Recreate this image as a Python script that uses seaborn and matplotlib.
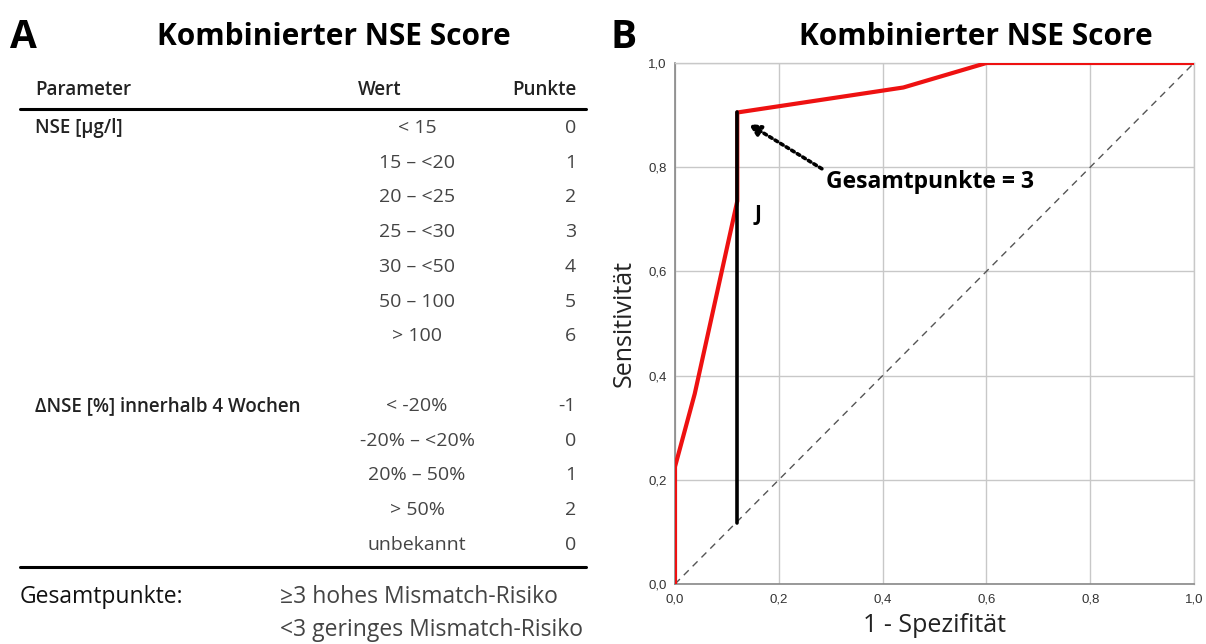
import matplotlib
matplotlib.use("Agg")
import matplotlib.pyplot as plt
import seaborn as sns
import pandas as pd

# ---------------- data ----------------
title_text = "Kombinierter NSE Score"
header = ["Parameter", "Wert", "Punkte"]
nse_label = "NSE [µg/l]"
nse_values = ["< 15", "15 – <20", "20 – <25", "25 – <30", "30 – <50", "50 – 100", "> 100"]
nse_points = ["0", "1", "2", "3", "4", "5", "6"]
delta_label = "ΔNSE [%] innerhalb 4 Wochen"
delta_values = ["< -20%", "-20% – <20%", "20% – 50%", "> 50%", "unbekannt"]
delta_points = ["-1", "0", "1", "2", "0"]
total_label = "Gesamtpunkte:"
total_rules = ["≥3 hohes Mismatch-Risiko", "<3 geringes Mismatch-Risiko"]

roc_fpr = [0.0, 0.0, 0.038, 0.12, 0.12, 0.44, 0.60, 1.0]
roc_tpr = [0.0, 0.225, 0.365, 0.735, 0.905, 0.953, 1.0, 1.0]
diag_x = [0.0, 1.0]
diag_y = [0.0, 1.0]
youden_x = [0.12, 0.12]
youden_y = [0.118, 0.905]
ticks = [0.0, 0.2, 0.4, 0.6, 0.8, 1.0]
tick_labels = ["0,0", "0,2", "0,4", "0,6", "0,8", "1,0"]
cut_label = "Gesamtpunkte = 3"
cut_point = (0.142, 0.883)
cut_text_pos = (0.283, 0.797)
j_label = "J"
j_pos = (0.153, 0.71)
xlabel = "1 - Spezifität"
ylabel = "Sensitivität"

# ---------------- figure ----------------
sns.set_theme(style="whitegrid")
FAM = ['Open Sans', 'DejaVu Sans']
plt.rcParams['font.family'] = FAM

W, H = 1206, 644
fig = plt.figure(figsize=(W / 100, H / 100), dpi=100)
fig.patch.set_facecolor("white")

def fx(x):
    return x / W

def fy(y):
    return 1 - y / H

TXT = "#444444"
HDR = "#222222"

# Panel A -------------------------------------------------------
fig.text(fx(10), fy(37), "A", fontsize=28, fontweight="bold", va="center", ha="left",
         color="black", family=FAM)
fig.text(fx(334), fy(37), title_text, fontsize=21.5, fontweight="bold", va="center",
         ha="center", color="black", family=FAM)

fig.text(fx(35), fy(90), header[0], fontsize=13.5, fontweight="semibold", va="center",
         ha="left", color=HDR, family=FAM)
fig.text(fx(380), fy(90), header[1], fontsize=13.5, fontweight="semibold", va="center",
         ha="center", color=HDR, family=FAM)
fig.text(fx(576), fy(90), header[2], fontsize=13.5, fontweight="semibold", va="center",
         ha="right", color=HDR, family=FAM)

fig.add_artist(plt.Line2D([fx(20), fx(586)], [fy(109), fy(109)], color="black", lw=2.2))

row_step = 34.7
fig.text(fx(35), fy(128), nse_label, fontsize=13.5, fontweight="semibold", va="center",
         ha="left", color=HDR, family=FAM)
for i, (v, p) in enumerate(zip(nse_values, nse_points)):
    y = 128 + i * row_step
    fig.text(fx(417), fy(y), v, fontsize=14, va="center", ha="center",
             color=TXT, family=FAM)
    fig.text(fx(576), fy(y), p, fontsize=14, va="center", ha="right",
             color=TXT, family=FAM)

fig.text(fx(35), fy(406), delta_label, fontsize=13.5, fontweight="semibold", va="center",
         ha="left", color=HDR, family=FAM)
for i, (v, p) in enumerate(zip(delta_values, delta_points)):
    y = 406 + i * row_step
    fig.text(fx(417), fy(y), v, fontsize=14, va="center", ha="center",
             color=TXT, family=FAM)
    fig.text(fx(576), fy(y), p, fontsize=14, va="center", ha="right",
             color=TXT, family=FAM)

fig.add_artist(plt.Line2D([fx(20), fx(586)], [fy(567), fy(567)], color="black", lw=2.2))

fig.text(fx(20), fy(597), total_label, fontsize=16.5, va="center", ha="left",
         color="#111111", family=FAM)
for i, r in enumerate(total_rules):
    fig.text(fx(280), fy(597 + i * 33.5), r, fontsize=16.5, va="center",
             ha="left", color=TXT, family=FAM)

# Panel B -------------------------------------------------------
fig.text(fx(610), fy(37), "B", fontsize=28, fontweight="bold", va="center", ha="left",
         color="black", family=FAM)
fig.text(fx(976), fy(37), title_text, fontsize=21.5, fontweight="bold", va="center",
         ha="center", color="black", family=FAM)

ax = fig.add_axes([fx(675), fy(584), (1194 - 675) / W, (584 - 63) / H])
ax.set_facecolor("white")

df_roc = pd.DataFrame({"fpr": roc_fpr, "tpr": roc_tpr})
df_diag = pd.DataFrame({"x": diag_x, "y": diag_y})
df_j = pd.DataFrame({"x": youden_x, "y": youden_y})

ax.plot(df_diag["x"], df_diag["y"], color="#555555", lw=1.0, dashes=(5, 4), zorder=2)
sns.lineplot(data=df_roc, x="fpr", y="tpr", sort=False, estimator=None, ax=ax,
             color="#ee1111", lw=3.0, zorder=3)
sns.lineplot(data=df_j, x="x", y="y", sort=False, estimator=None, ax=ax,
             color="black", lw=2.6, zorder=4)

ax.annotate("", xy=cut_point, xytext=cut_text_pos,
            arrowprops=dict(arrowstyle="-|>", linestyle=(0, (0.8, 1.0)), lw=2.6,
                            color="black", mutation_scale=17, shrinkA=0, shrinkB=0))
ax.text(cut_text_pos[0] + 0.008, cut_text_pos[1] - 0.026, cut_label, fontsize=16.5,
        fontweight="bold", va="center", ha="left", color="black", family=FAM)
ax.text(j_pos[0], j_pos[1], j_label, fontsize=15, fontweight="bold", va="center",
        ha="left", color="black", family=FAM)

ax.set_xlim(0, 1)
ax.set_ylim(0, 1)
ax.set_xticks(ticks)
ax.set_yticks(ticks)
ax.set_xticklabels(tick_labels, fontsize=9.5, color="#333333", family="Liberation Sans")
ax.set_yticklabels(tick_labels, fontsize=9.5, color="#333333", family="Liberation Sans")
ax.tick_params(axis="x", length=0, pad=7)
ax.tick_params(axis="y", length=0, pad=6)
ax.grid(True, color="#c8c8c8", lw=1.0)
for s in ["top", "right"]:
    ax.spines[s].set_color("#c8c8c8")
    ax.spines[s].set_linewidth(1.0)
for s in ["left", "bottom"]:
    ax.spines[s].set_color("#888888")
    ax.spines[s].set_linewidth(1.2)
ax.set_xlabel(xlabel, fontsize=18, color="#222222", family=FAM, labelpad=5)
ax.set_ylabel(ylabel, fontsize=18, color="#222222", family=FAM, labelpad=8)

fig.savefig("out.png", dpi=100, facecolor="white")
